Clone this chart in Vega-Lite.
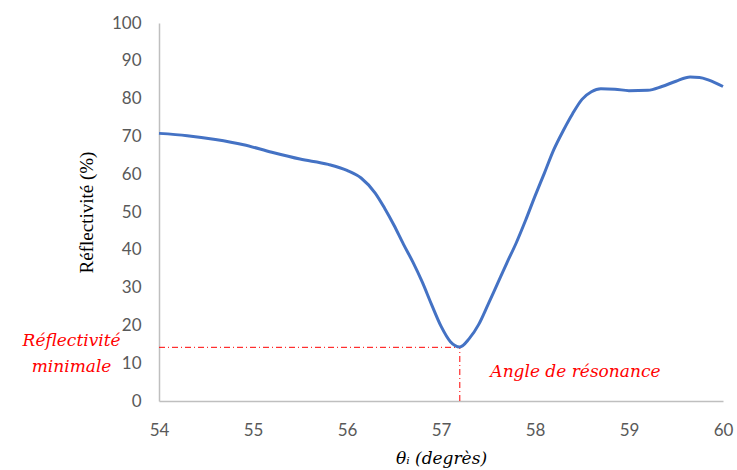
{
  "$schema": "https://vega.github.io/schema/vega-lite/v6.json",
  "autosize": {"type": "none"},
  "width": 564,
  "height": 378,
  "padding": {"left": 159, "top": 23, "right": 14, "bottom": 69},
  "background": "white",
  "config": {"view": {"stroke": null}},
  "datasets": {
    "curve": [
      {"x": 54.0, "y": 70.8},
      {"x": 54.3, "y": 70.2},
      {"x": 54.6, "y": 69.2},
      {"x": 54.9, "y": 67.8},
      {"x": 55.2, "y": 65.8},
      {"x": 55.5, "y": 64.0},
      {"x": 55.8, "y": 62.6},
      {"x": 56.0, "y": 61.0},
      {"x": 56.15, "y": 59.0},
      {"x": 56.3, "y": 55.0},
      {"x": 56.4, "y": 51.0},
      {"x": 56.5, "y": 46.5},
      {"x": 56.6, "y": 41.5},
      {"x": 56.7, "y": 36.8},
      {"x": 56.8, "y": 31.5},
      {"x": 56.9, "y": 25.5},
      {"x": 57.0, "y": 19.8},
      {"x": 57.1, "y": 15.7},
      {"x": 57.2, "y": 14.3},
      {"x": 57.3, "y": 16.5},
      {"x": 57.4, "y": 20.2},
      {"x": 57.5, "y": 25.5},
      {"x": 57.6, "y": 31.0},
      {"x": 57.7, "y": 36.5},
      {"x": 57.8, "y": 41.8},
      {"x": 57.9, "y": 47.8},
      {"x": 58.0, "y": 54.2},
      {"x": 58.1, "y": 60.3},
      {"x": 58.2, "y": 66.5},
      {"x": 58.3, "y": 71.5},
      {"x": 58.4, "y": 76.0},
      {"x": 58.5, "y": 79.8},
      {"x": 58.6, "y": 81.8},
      {"x": 58.7, "y": 82.6},
      {"x": 58.85, "y": 82.5},
      {"x": 59.0, "y": 82.1},
      {"x": 59.2, "y": 82.2},
      {"x": 59.35, "y": 83.2},
      {"x": 59.5, "y": 84.6},
      {"x": 59.65, "y": 85.7},
      {"x": 59.75, "y": 85.6},
      {"x": 59.85, "y": 84.9},
      {"x": 60.0, "y": 83.2}
    ],
    "hline": [{"x": 54, "x2": 57.2, "y": 14.2}],
    "vline": [{"x": 57.2, "y": 0, "y2": 14.2}],
    "labels": [
      {"x": 53.07, "y": 15.9, "t": "Réflectivité"},
      {"x": 53.07, "y": 9.0, "t": "minimale"},
      {"x": 58.43, "y": 7.75, "t": "Angle de résonance"}
    ]
  },
  "encoding": {
    "x": {
      "field": "x", "type": "quantitative",
      "scale": {"domain": [54, 60], "nice": false, "zero": false},
      "axis": {
        "values": [54, 55, 56, 57, 58, 59, 60], "format": "d",
        "labelFlush": false, "labelOverlap": false,
        "title": "θᵢ (degrès)",
        "titleFont": "DejaVu Serif", "titleFontStyle": "italic", "titleFontWeight": "normal",
        "titleFontSize": 17, "titleColor": "#000000", "titlePadding": 12,
        "labelFont": "Lato", "labelFontSize": 17, "labelColor": "#595959", "labelPadding": 21,
        "ticks": false, "grid": false, "domainColor": "#bfbfbf", "domainWidth": 1.5
      }
    },
    "y": {
      "field": "y", "type": "quantitative",
      "scale": {"domain": [0, 100], "nice": false},
      "axis": {
        "values": [0, 10, 20, 30, 40, 50, 60, 70, 80, 90, 100], "tickCount": 11, "format": "d",
        "labelFlush": false, "labelOverlap": false, "labelSeparation": 0,
        "title": "Réflectivité (%)",
        "titleFont": "Liberation Serif", "titleFontWeight": "normal",
        "titleFontSize": 19, "titleColor": "#000000", "titlePadding": 15,
        "labelFont": "Lato", "labelFontSize": 17, "labelColor": "#595959", "labelPadding": 18,
        "ticks": false, "grid": false, "domainColor": "#bfbfbf", "domainWidth": 1.5
      }
    }
  },
  "layer": [
    {
      "data": {"name": "hline"},
      "mark": {"type": "rule", "color": "#ff0000", "strokeWidth": 1, "strokeDash": [6, 3, 1, 3]},
      "encoding": {"x2": {"field": "x2"}}
    },
    {
      "data": {"name": "vline"},
      "mark": {"type": "rule", "color": "#ff0000", "strokeWidth": 1, "strokeDash": [6, 3, 1, 3]},
      "encoding": {"y2": {"field": "y2"}}
    },
    {
      "data": {"name": "curve"},
      "mark": {"type": "line", "color": "#4472C4", "strokeWidth": 3, "interpolate": "monotone"},
      "encoding": {}
    },
    {
      "data": {"name": "labels"},
      "mark": {"type": "text", "color": "#ff0000", "font": "DejaVu Serif", "fontStyle": "italic", "fontSize": 17, "align": "center", "baseline": "middle"},
      "encoding": {"text": {"field": "t"}}
    }
  ]
}
